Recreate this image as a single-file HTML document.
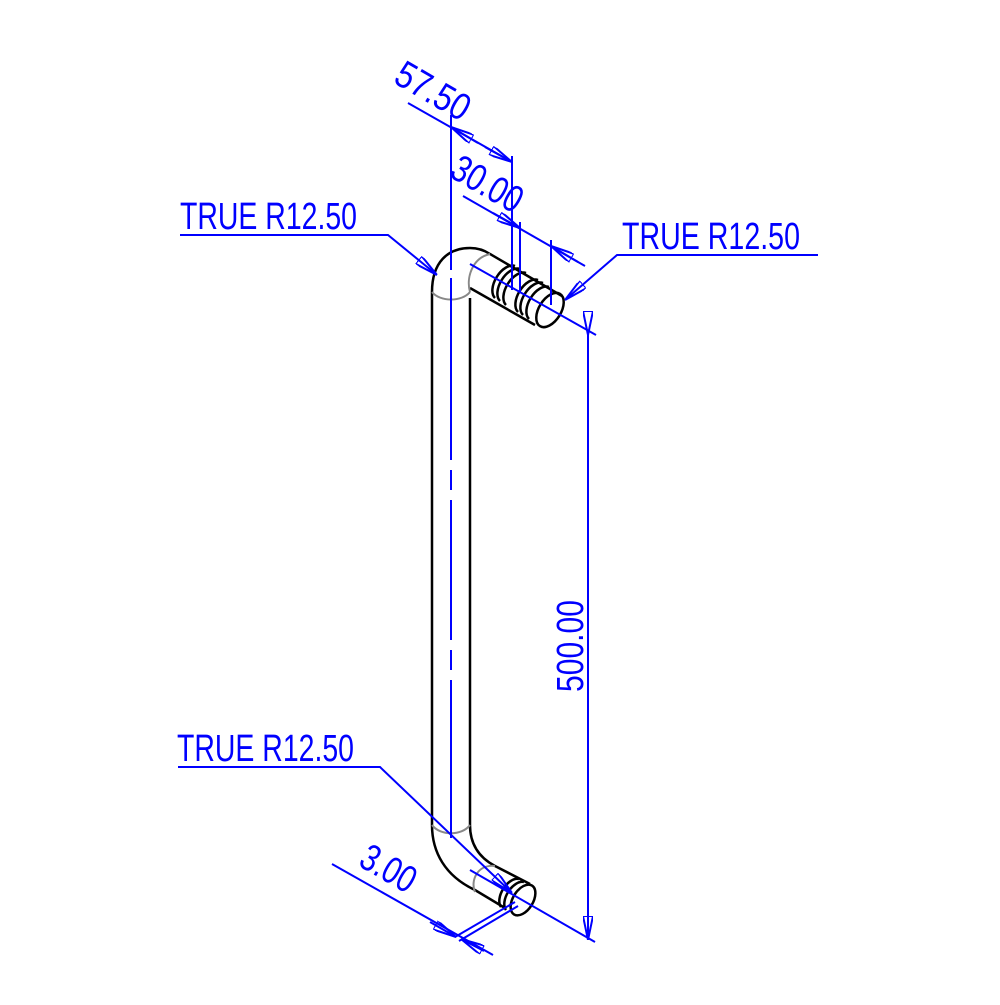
<!DOCTYPE html>
<html><head><style>html,body{margin:0;padding:0;background:#fff}</style></head><body>
<svg width="1000" height="1000" viewBox="0 0 1000 1000" xmlns="http://www.w3.org/2000/svg">
<defs>
<marker id="a" viewBox="0 0 24 10" refX="24" refY="5" markerWidth="24" markerHeight="10" markerUnits="userSpaceOnUse" orient="auto">
<path d="M0,0 L24,5 L0,10 Z" fill="none" stroke="#0000ff" stroke-width="2"/>
</marker>
</defs>
<g fill="none" stroke="#000" stroke-width="2.5">
<line x1="432" y1="292" x2="432" y2="825"/>
<line x1="470" y1="298" x2="470" y2="825"/>
<path d="M432,292 C432,262 448,248 470,248 C478,248 484,250 490,254 L562,296"/>
<line x1="470" y1="288" x2="535" y2="325"/>
<ellipse cx="550" cy="310" rx="11" ry="19" transform="rotate(32 550 310)"/>
<path d="M529,319 A11,19 32 0 1 549,287"/>
<path d="M523,315 A11,19 32 0 1 543,283"/>
<path d="M518,312 A11,19 32 0 1 538,280"/>
<path d="M506,305 A11,19 32 0 1 526,273"/>
<path d="M500,301 A11,19 32 0 1 520,269"/>
<path d="M495,298 A11,19 32 0 1 515,266"/>
<path d="M432,825 C432,852 445,876 475,890 L505,908"/>
<path d="M470,825 C470,845 480,858 495,866 L530,884"/>
<ellipse cx="523" cy="900" rx="10" ry="17" transform="rotate(32 523 900)"/>
<path d="M506,910 A10,17 32 0 1 524,882"/>
<path d="M501,907 A10,17 32 0 1 519,879"/>
</g>
<g fill="none" stroke="#888" stroke-width="2">
<path d="M432,292 C440,302 462,302 470,292"/>
<path d="M490,254 C472,258 466,278 470,292"/>
<path d="M432,825 C440,836 462,836 470,825"/>
<path d="M495,866 C478,864 470,880 475,892"/>
</g>
<g stroke="#0000ff" stroke-width="2" fill="none">
<line x1="451" y1="115" x2="451" y2="270"/>
<line x1="451" y1="278" x2="451" y2="460"/>
<line x1="451" y1="470" x2="451" y2="490"/>
<line x1="451" y1="500" x2="451" y2="640"/>
<line x1="451" y1="650" x2="451" y2="670"/>
<line x1="451" y1="680" x2="451" y2="838"/>
<line x1="470" y1="264" x2="596" y2="335"/>
<line x1="470" y1="870" x2="595" y2="942"/>
<line x1="588" y1="335" x2="588" y2="940" marker-start="url(#a)" marker-end="url(#a)"/>
<line x1="408" y1="103" x2="512" y2="162"/>
<line x1="478" y1="143" x2="451" y2="127" marker-end="url(#a)"/>
<line x1="485" y1="147" x2="512" y2="162" marker-end="url(#a)"/>
<line x1="512" y1="156" x2="512" y2="290"/>
<line x1="463" y1="196" x2="585" y2="266"/>
<line x1="493" y1="213" x2="520" y2="228" marker-end="url(#a)"/>
<line x1="578" y1="262" x2="551" y2="246" marker-end="url(#a)"/>
<line x1="520" y1="222" x2="520" y2="292"/>
<line x1="551" y1="240" x2="551" y2="305"/>
<polyline points="180,235 388,235 437,275" marker-end="url(#a)"/>
<polyline points="818,255 617,255 565,300" marker-end="url(#a)"/>
<polyline points="178,767 380,767 512,893" marker-end="url(#a)"/>
<line x1="332" y1="864" x2="493" y2="955"/>
<line x1="430" y1="922" x2="456" y2="937" marker-end="url(#a)"/>
<line x1="484" y1="951" x2="461" y2="939" marker-end="url(#a)"/>
<line x1="455" y1="937" x2="515" y2="902"/>
<line x1="459" y1="941" x2="518" y2="906"/>
</g>
<g fill="#0000ff" font-family="Liberation Sans, sans-serif" font-size="38">
<text x="180" y="229" textLength="177" lengthAdjust="spacingAndGlyphs">TRUE R12.50</text>
<text x="622" y="249" textLength="178" lengthAdjust="spacingAndGlyphs">TRUE R12.50</text>
<text x="177" y="761" textLength="177" lengthAdjust="spacingAndGlyphs">TRUE R12.50</text>
<text transform="translate(392,82) rotate(30)" textLength="80" lengthAdjust="spacingAndGlyphs">57.50</text>
<text transform="translate(448,176) rotate(30)" textLength="76" lengthAdjust="spacingAndGlyphs">30.00</text>
<text transform="translate(357,865) rotate(30)" textLength="58" lengthAdjust="spacingAndGlyphs">3.00</text>
<text transform="translate(583,692) rotate(-90)" textLength="92" lengthAdjust="spacingAndGlyphs">500.00</text>
</g>
</svg>
</body></html>
